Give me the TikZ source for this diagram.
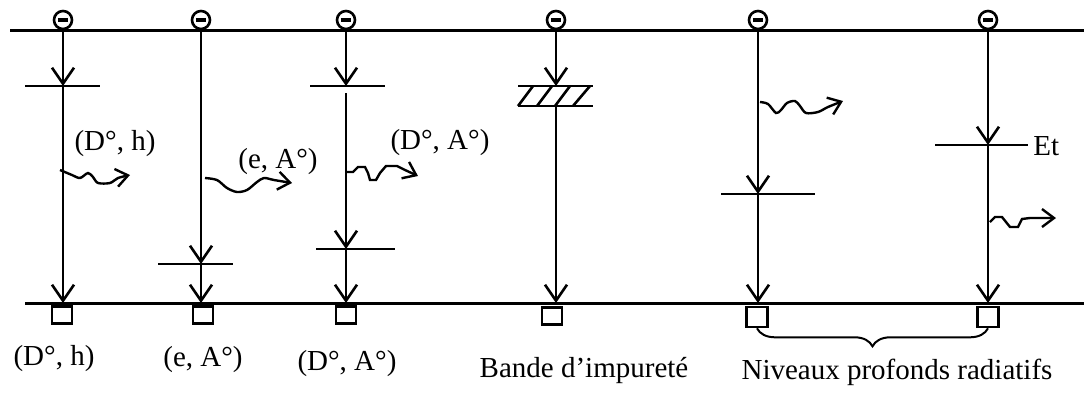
\documentclass[tikz,border=0pt]{standalone}
\usepackage{fontspec}
\setmainfont{Liberation Serif}
\usetikzlibrary{arrows.meta,decorations.pathreplacing}

\begin{document}
\begin{tikzpicture}[x=0.5pt,y=-0.5pt,
    band/.style={line width=1.5pt},
    level/.style={line width=1.3pt},
    fall/.style={line width=1.3pt,-{Straight Barb[length=8pt,width=11pt,line width=1.3pt]}},
    electron/.style={draw,circle,line width=1.3pt,minimum size=9pt,inner sep=0pt},
    hole/.style={draw,line width=1.3pt,minimum width=10pt,minimum height=8.5pt,inner sep=0pt},
    bighole/.style={hole,minimum width=10.5pt,minimum height=10pt},
    photon/.style={line width=1.2pt,-{Straight Barb[length=6pt,width=9pt,line width=1.2pt]}},
    lab/.style={font=\fontsize{14.5}{17}\selectfont,inner sep=0pt}]
    \useasboundingbox (0,0) rectangle (1084,392);
    % conduction and valence bands
    \draw[band] (10,30) -- (1084,30);
    \draw[band] (25,303) -- (1084,303);
    \foreach \n/\x in {1/63,2/201,3/346,4/556,5/758,6/988}{
      \node[electron] (e\n) at (\x,20) {};
      \draw[line width=1.8pt] ([xshift=-2.6pt]e\n.center) -- ([xshift=2.6pt]e\n.center);
      \coordinate (t\n) at (\x,30);
      \coordinate (b\n) at (\x,303);
    }
    % holes
    \node[hole] (s1) at (62,315) {};
    \node[hole] (s2) at (203,315) {};
    \node[hole] (s3) at (346,315) {};
    \node[hole] (s4) at (552,316) {};
    \node[bighole] (s5) at (757,317) {};
    \node[bighole] (s6) at (988,317) {};
    % (D, h)
    \draw[level] (25,86) -- (100,86);
    \coordinate (l1) at (63,86);
    \draw[fall] (t1) -- (l1);
    \draw[fall] (l1) -- (b1);
    \draw[photon] plot[smooth] coordinates {(60,170) (72,175) (80,178) (88,173) (93,177) (98,183) (110,183) (118,178) (130,175)};
    \node[lab] (p1) at (115,144) {(D°, h)};
    % (e, A)
    \draw[level] (158,264) -- (233,264);
    \coordinate (l2) at (201,264);
    \draw[fall] (t2) -- (l2);
    \draw[fall] (l2) -- (b2);
    \draw[photon] plot[smooth] coordinates {(205,178) (217,180) (227,188) (237,192) (247,190) (257,182) (264,178) (274,180) (292,183)};
    \node[lab] (p2) at (278,162) {(e, A°)};
    % (D, A)
    \draw[level] (310,86) -- (385,86);
    \draw[level] (316,249) -- (395,249);
    \coordinate (l3) at (346,86);
    \coordinate (g3) at (346,93);
    \coordinate (m3) at (346,249);
    \draw[fall] (t3) -- (l3);
    \draw[fall] (g3) -- (m3);
    \draw[fall] (m3) -- (b3);
    \draw[photon] (347,172) -- (353,172) -- (358,167) -- (365,167) -- (368,173) -- (370,180) -- (376,180) -- (380,173) -- (386,166) -- (397,166) -- (405,170) -- (418,176);
    \node[lab] (p3) at (440,143) {(D°, A°)};
    % impurity band
    \draw[level] (518,86) -- (593,86);
    \draw[level] (518,106) -- (593,106);
    \foreach \bx/\tx in {518/533,537/552,555/570,573/590}
      \draw[level] (\bx,106) -- (\tx,86);
    \coordinate (l4) at (556,86);
    \coordinate (g4) at (556,106);
    \draw[fall] (t4) -- (l4);
    \draw[fall] (g4) -- (b4);
    % deep levels
    \draw[level] (721,194) -- (815,194);
    \coordinate (l5) at (758,194);
    \draw[fall] (t5) -- (l5);
    \draw[fall] (l5) -- (b5);
    \draw[photon] plot[smooth] coordinates {(760,102) (768,104) (776,113) (781,110) (787,103) (795,101) (800,106) (806,113) (818,112) (828,107) (843,101)};
    \draw[level] (935,145) -- (1028,145);
    \coordinate (l6) at (988,145);
    \node[lab,anchor=west] (et) at (1033,146) {Et};
    \draw[fall] (t6) -- (l6);
    \draw[fall] (l6) -- (b6);
    \draw[photon] (990,222) -- (995,217) -- (1002,217) -- (1006,222) -- (1010,227) -- (1018,227) -- (1022,219) -- (1030,218) -- (1056,218);
    % bottom labels
    \node[lab] (q1) at (54,359) {(D°, h)};
    \node[lab] (q2) at (203,360) {(e, A°)};
    \node[lab] (q3) at (347,364) {(D°, A°)};
    \node[lab] (q4) at (584,370) {Bande d’impureté};
    \node[lab] (q5) at (897,372) {Niveaux profonds radiatifs};
    \draw[line width=1pt,decorate,decoration={brace,amplitude=9pt,mirror}] (s5.south) -- (s6.south);
\end{tikzpicture}
\end{document}
